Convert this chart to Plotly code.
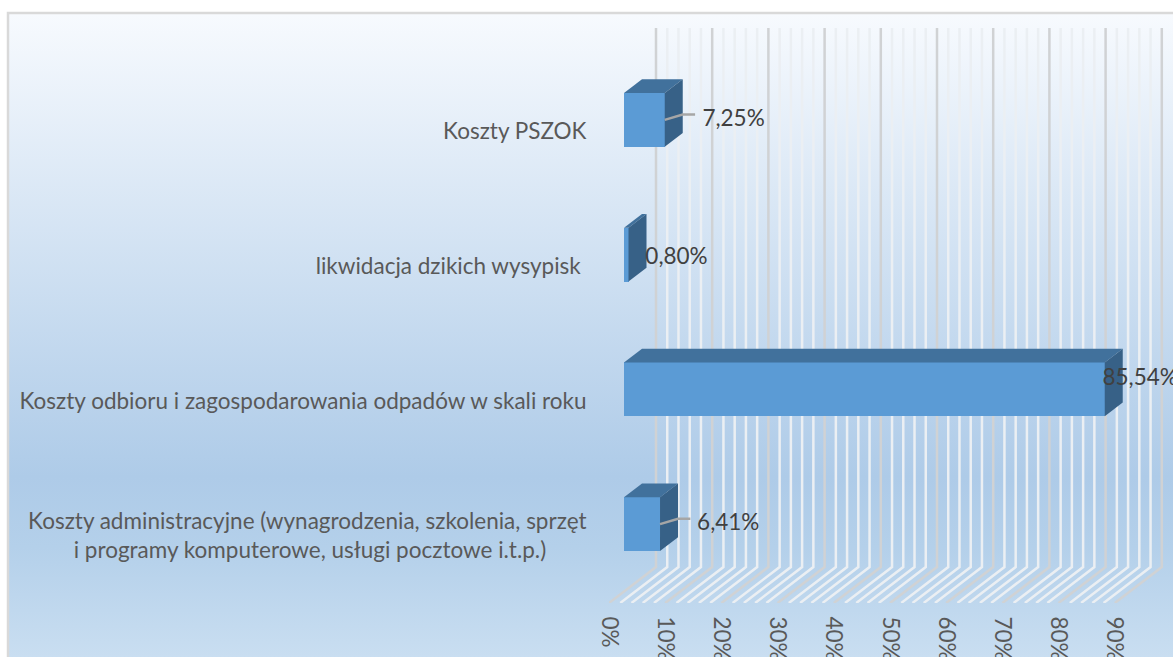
import plotly.graph_objects as go

# ---- data ----
categories = [
    "Koszty administracyjne (wynagrodzenia, szkolenia, sprzęt<br>i programy komputerowe, usługi pocztowe i.t.p.)\u00a0\u00a0\u00a0\u00a0\u00a0\u00a0\u00a0",
    "Koszty odbioru i zagospodarowania odpadów w skali roku",
    "likwidacja dzikich wysypisk\u00a0",
    "Koszty PSZOK",
]
values = [6.41, 85.54, 0.80, 7.25]
labels = ["6,41%", "85,54%", "0,80%", "7,25%"]
label_gap = [6.6, -0.4, 3.0, 6.7]       # label start beyond bar end, in axis units
label_lift = [0.0, 0.074, -0.03, 0.0]   # label shift from bar centre, in category units
has_leader = [True, False, False, True]
major_ticks = [0, 10, 20, 30, 40, 50, 60, 70, 80, 90]
minor_ticks = [v for v in range(0, 92, 2) if v % 10]

# ---- pseudo-3D projection, in axis units ----
W, H = 1173, 657
PX = 5.62                    # pixels per percent
X_LEFT, Y_TOP, Y_BOT = 609, 28, 603
DX, DY = 47 / PX, 36 / 134.8  # full floor depth
F0, F1 = 15 / 47, 33 / 47     # bar's front and back depth
HALF = 0.2
x_range = [0, (W - X_LEFT) / PX]
y_range = [-0.5, 3.5 + DY]

FRONT, TOP, SIDE = "#5b9bd5", "#41719c", "#376187"
MAJOR, MINOR = "#d0d2d4", "#ebeff3"
TXT = "#595959"
FONT = "Lato"
FS = 22.5


def wall_floor(vals):
    xs, ys = [], []
    for v in vals:
        xs += [v, v + DX, v + DX, None]
        ys += [y_range[0], y_range[0] + DY, y_range[1], None]
    return xs, ys


fig = go.Figure()

# chart-area gradient
fig.add_trace(go.Scatter(
    x=[0, 1, 1, 0, 0], y=[0, 0, 1, 1, 0], xaxis="x", yaxis="y", mode="lines",
    line=dict(width=0), fill="toself", hoverinfo="skip", showlegend=False,
    fillgradient=dict(type="vertical", colorscale=[
        [0.0, "#c9def1"], [0.17, "#b4d0ea"], [0.28, "#aecbe8"], [1.0, "#f7fafe"]]),
))

# back wall and floor lines
for vals, col in ((minor_ticks, MINOR), (major_ticks, MAJOR)):
    xs, ys = wall_floor(vals)
    fig.add_trace(go.Scatter(x=xs, y=ys, xaxis="x2", yaxis="y2", mode="lines",
                             line=dict(color=col, width=2.5), hoverinfo="skip",
                             showlegend=False))

# front faces
idx = list(range(len(values)))
fig.add_trace(go.Bar(
    x=values, y=[i + F0 * DY for i in idx], base=[F0 * DX] * len(values),
    orientation="h", width=HALF * 2, xaxis="x3", yaxis="y3",
    marker=dict(color=FRONT, line=dict(width=0)), showlegend=False,
))

# top and side faces
for i, v in zip(idx, values):
    x0, x1 = F0 * DX, v + F0 * DX
    yt, yb = i + F0 * DY + HALF, i + F0 * DY - HALF
    ddx, ddy = (F1 - F0) * DX, (F1 - F0) * DY
    fig.add_trace(go.Scatter(
        x=[x0, x1, x1 + ddx, x0 + ddx, x0], y=[yt, yt, yt + ddy, yt + ddy, yt],
        xaxis="x3", yaxis="y3", mode="lines", line=dict(width=0), fill="toself",
        fillcolor=TOP, hoverinfo="skip", showlegend=False))
    fig.add_trace(go.Scatter(
        x=[x1, x1 + ddx, x1 + ddx, x1, x1], y=[yt, yt + ddy, yb + ddy, yb, yt],
        xaxis="x3", yaxis="y3", mode="lines", line=dict(width=0), fill="toself",
        fillcolor=SIDE, hoverinfo="skip", showlegend=False))

# leader lines and value labels
for i, v, g, lead in zip(idx, values, label_gap, has_leader):
    x1 = v + F0 * DX
    yc = i + F0 * DY
    if lead:
        fig.add_trace(go.Scatter(
            x=[x1, x1 + 3.2, x1 + 5.4], y=[yc - 0.0, yc + 0.04, yc + 0.04],
            xaxis="x3", yaxis="y3", mode="lines",
            line=dict(color="#a6a6a6", width=2.5), hoverinfo="skip", showlegend=False))
fig.add_trace(go.Scatter(
    x=[v + F0 * DX + g for v, g in zip(values, label_gap)],
    y=[i + F0 * DY + l for i, l in zip(idx, label_lift)], xaxis="x3", yaxis="y3",
    mode="text", text=labels, textposition="middle right", cliponaxis=False,
    textfont=dict(family=FONT, size=FS, color="#404040"),
    hoverinfo="skip", showlegend=False,
))

hidden = dict(visible=False, fixedrange=True)
xdom = [X_LEFT / W, 1]
ydom = [1 - Y_BOT / H, 1 - Y_TOP / H]
fig.update_layout(
    width=W, height=H, autosize=False,
    margin=dict(l=0, r=0, t=0, b=0, pad=0),
    paper_bgcolor="white", plot_bgcolor="rgba(0,0,0,0)", showlegend=False,
    bargap=0,
    xaxis=dict(domain=[9 / W, 1], range=[0, 1], **hidden),
    yaxis=dict(domain=[0, 1 - 14 / H], range=[0, 1], **hidden),
    xaxis2=dict(domain=xdom, range=x_range, anchor="y2", **hidden),
    yaxis2=dict(domain=ydom, range=y_range, anchor="x2", **hidden),
    xaxis3=dict(
        domain=xdom, range=x_range, anchor="y3", automargin=False, showgrid=False,
        zeroline=False, showline=False, tickmode="array", tickvals=major_ticks,
        ticktext=[f"{v}%" for v in major_ticks], tickangle=90, ticks="outside",
        ticklen=8, tickcolor="rgba(0,0,0,0)", fixedrange=True,
        tickfont=dict(family=FONT, size=FS, color=TXT),
    ),
    yaxis3=dict(
        domain=ydom, range=y_range, anchor="x3", automargin=False, showgrid=False,
        zeroline=False, showline=False, tickmode="array", tickvals=idx,
        ticktext=categories, ticks="outside", ticklen=17,
        tickcolor="rgba(0,0,0,0)", fixedrange=True,
        tickfont=dict(family=FONT, size=FS, color=TXT),
    ),
    shapes=[dict(type="rect", xref="paper", yref="paper", x0=8 / W, x1=1.01,
                 y0=-0.01, y1=1 - 13 / H, line=dict(color="#d9d9d9", width=2.5),
                 fillcolor="rgba(0,0,0,0)", layer="above")],
)

fig.write_html("out.html", config=dict(displayModeBar=False),
               post_script="document.body.style.margin='0';document.body.style.overflow='hidden';")
